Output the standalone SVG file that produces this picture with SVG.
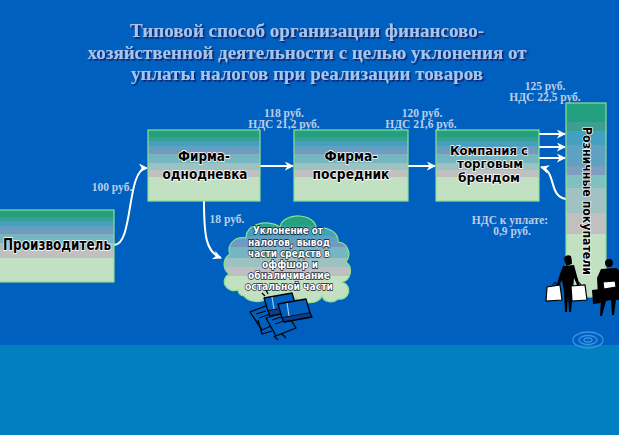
<svg xmlns="http://www.w3.org/2000/svg" width="619" height="435" viewBox="0 0 619 435">
<defs>
<style>
.title{font-family:"Liberation Serif","Times New Roman",serif;font-weight:bold;font-size:18px;fill:#A4C6EE;text-anchor:middle;filter:url(#sh)}
.lbl{font-family:"Liberation Serif","Times New Roman",serif;font-weight:bold;font-size:11.5px;fill:#BCCDE6;text-anchor:middle}
.bx{stroke:#8EE08E;stroke-width:1.2}
.bt{font-family:"DejaVu Sans","Liberation Sans",Arial,sans-serif;font-weight:bold;fill:#000;stroke:#FFFFFF;stroke-width:1.4;paint-order:stroke;text-anchor:middle}
.ct{font-family:"DejaVu Sans","Liberation Sans",Arial,sans-serif;font-weight:bold;font-size:10.5px;fill:#FFFFFF;stroke:#101830;stroke-width:1.3;paint-order:stroke;text-anchor:middle}
.ar{fill:none;stroke:#FFFFFF;stroke-width:2;marker-end:url(#ah)}
.sil{fill:#000}
</style>
<filter id="sh" x="-5%" y="-20%" width="110%" height="150%">
<feDropShadow dx="1.6" dy="1.6" stdDeviation="0.3" flood-color="#14246A" flood-opacity="1"/>
</filter>
<linearGradient id="g" x1="0" y1="0" x2="0" y2="1">
<stop offset="0" stop-color="#22A080"/><stop offset="0.1" stop-color="#22A080"/>
<stop offset="0.1" stop-color="#3A9E92"/><stop offset="0.155" stop-color="#3A9E92"/>
<stop offset="0.155" stop-color="#42A0C0"/><stop offset="0.225" stop-color="#42A0C0"/>
<stop offset="0.225" stop-color="#60A0C0"/><stop offset="0.28" stop-color="#60A0C0"/>
<stop offset="0.28" stop-color="#7498C0"/><stop offset="0.34" stop-color="#7498C0"/>
<stop offset="0.34" stop-color="#76B6C0"/><stop offset="0.465" stop-color="#76B6C0"/>
<stop offset="0.465" stop-color="#9CC2C2"/><stop offset="0.56" stop-color="#9CC2C2"/>
<stop offset="0.56" stop-color="#C0C0C0"/><stop offset="0.66" stop-color="#C0C0C0"/>
<stop offset="0.66" stop-color="#C2E0C2"/><stop offset="1" stop-color="#C2E0C2"/>
</linearGradient>
<linearGradient id="gt" x1="0" y1="0" x2="0" y2="1">
<stop offset="0" stop-color="#22A080"/><stop offset="0.1" stop-color="#22A080"/>
<stop offset="0.1" stop-color="#3E9E92"/><stop offset="0.144" stop-color="#3E9E92"/>
<stop offset="0.144" stop-color="#42A0C0"/><stop offset="0.216" stop-color="#42A0C0"/>
<stop offset="0.216" stop-color="#60A0C0"/><stop offset="0.325" stop-color="#60A0C0"/>
<stop offset="0.325" stop-color="#7E9EC0"/><stop offset="0.37" stop-color="#7E9EC0"/>
<stop offset="0.37" stop-color="#80C0C0"/><stop offset="0.438" stop-color="#80C0C0"/>
<stop offset="0.438" stop-color="#A0C2C2"/><stop offset="0.567" stop-color="#A0C2C2"/>
<stop offset="0.567" stop-color="#C0C0C0"/><stop offset="0.675" stop-color="#C0C0C0"/>
<stop offset="0.675" stop-color="#C2E0C2"/><stop offset="1" stop-color="#C2E0C2"/>
</linearGradient>
<marker id="ah" viewBox="0 0 10 10" refX="9" refY="5" markerWidth="9" markerHeight="9" markerUnits="userSpaceOnUse" orient="auto">
<path d="M0,0 L10,5 L0,10 L3,5 Z" fill="#FFFFFF"/>
</marker>
</defs>

<rect x="0" y="0" width="619" height="435" fill="#0060C0"/>
<rect x="0" y="345" width="619" height="90" fill="#0080C0"/>

<g id="title">
<text class="title" x="307" y="37" textLength="354" lengthAdjust="spacingAndGlyphs">Типовой способ организации финансово-</text>
<text class="title" x="307" y="59" textLength="439" lengthAdjust="spacingAndGlyphs">хозяйственной деятельности с целью уклонения от</text>
<text class="title" x="307" y="80" textLength="352" lengthAdjust="spacingAndGlyphs">уплаты налогов при реализации товаров</text>
</g>

<g id="connectors">
<path class="ar" d="M114,245 C134,245 126,168 147,168"/>
<path class="ar" d="M260,166 L293,166"/>
<path class="ar" d="M408,166 L435,166"/>
<path class="ar" d="M204,201 C204,236 206,252 221,258"/>
<line x1="512" y1="134" x2="539" y2="134" stroke="#48A8E8" stroke-width="1.5"/>
<path class="ar" d="M539,134 L565,134"/>
<path class="ar" d="M539,147 L565,147"/>
<path class="ar" d="M539,158 L565,158"/>
<path class="ar" d="M566,199 C548,196 557,172 541,167"/>
</g>

<g id="labels">
<text class="lbl" x="112" y="191">100 руб.</text>
<text class="lbl" x="284" y="117">118 руб.</text>
<text class="lbl" x="284" y="128">НДС 21,2 руб.</text>
<text class="lbl" x="422" y="117">120 руб.</text>
<text class="lbl" x="421" y="128">НДС 21,6 руб.</text>
<text class="lbl" x="545" y="90">125 руб.</text>
<text class="lbl" x="545" y="101">НДС 22,5 руб.</text>
<text class="lbl" x="227" y="223">18 руб.</text>
<text class="lbl" x="510" y="224">НДС к уплате:</text>
<text class="lbl" x="512" y="235">0,9 руб.</text>
</g>

<g id="node-producer">
<rect class="bx" x="-2" y="210" width="116" height="72" fill="url(#g)"/>
<text class="bt" x="57" y="250" font-size="15" textLength="108" lengthAdjust="spacingAndGlyphs">Производитель</text>
</g>

<g id="node-oneday">
<rect class="bx" x="148" y="130" width="112" height="71" fill="url(#g)"/>
<text class="bt" x="204" y="161" font-size="14" textLength="52" lengthAdjust="spacingAndGlyphs">Фирма-</text>
<text class="bt" x="205" y="179" font-size="14" textLength="85" lengthAdjust="spacingAndGlyphs">однодневка</text>
</g>

<g id="node-intermediary">
<rect class="bx" x="294" y="130" width="114" height="71" fill="url(#g)"/>
<text class="bt" x="351" y="161" font-size="14" textLength="53" lengthAdjust="spacingAndGlyphs">Фирма-</text>
<text class="bt" x="351" y="179" font-size="14" textLength="77" lengthAdjust="spacingAndGlyphs">посредник</text>
</g>

<g id="node-brand">
<rect class="bx" x="436" y="130" width="103" height="71" fill="url(#g)"/>
<text class="bt" x="489" y="155" font-size="12" textLength="78" lengthAdjust="spacingAndGlyphs">Компания с</text>
<text class="bt" x="490" y="168" font-size="12" textLength="66" lengthAdjust="spacingAndGlyphs">торговым</text>
<text class="bt" x="489" y="182" font-size="12" textLength="62" lengthAdjust="spacingAndGlyphs">брендом</text>
</g>

<g id="node-buyers">
<rect class="bx" x="566" y="103" width="40" height="194" fill="url(#gt)"/>
<text class="bt" x="0" y="0" font-size="13" textLength="148" lengthAdjust="spacingAndGlyphs" transform="translate(583,201) rotate(90)">Розничные покупатели</text>
</g>

<g id="node-cloud">
<path class="bx" fill="url(#g)" d="M238,290 A10,9 0 0 1 229,274 A12,12 0 0 1 230,254 A14,12 0 0 1 246,238 A20,14 0 0 1 280,227 A18,12 0 0 1 316,229 A16,13 0 0 1 338,242 A11,12 0 0 1 346,262 A10,11 0 0 1 342,282 A8,8 0 0 1 338,299 A9,7 0 0 1 322,296 A14,9 0 0 1 296,298 A14,9 0 0 1 268,298 A14,9 0 0 1 244,296 A7,6 0 0 1 238,290 Z"/>
<text class="ct" x="288" y="234" textLength="70" lengthAdjust="spacingAndGlyphs">Уклонение от</text>
<text class="ct" x="289" y="245.5" textLength="82" lengthAdjust="spacingAndGlyphs">налогов, вывод</text>
<text class="ct" x="289" y="256.5" textLength="82" lengthAdjust="spacingAndGlyphs">части средств в</text>
<text class="ct" x="290" y="267.5" textLength="56" lengthAdjust="spacingAndGlyphs">оффшор и</text>
<text class="ct" x="289" y="278.5" textLength="82" lengthAdjust="spacingAndGlyphs">обналичивание</text>
<text class="ct" x="289" y="289.5" textLength="88" lengthAdjust="spacingAndGlyphs">остальной части</text>
</g>

<g id="money" stroke="#000" stroke-width="1.3" stroke-linejoin="round">
<path d="M250,312 L268,305 L280,322 L262,330 Z" fill="#0060C0"/>
<path d="M258,320 L262,334 L272,331" fill="none"/>
<path d="M266,318 L286,312 L296,328 L276,336 Z" fill="#0060C0"/>
<path d="M256,314 L266,311 M259,318 L270,314 M272,320 L284,316 M275,324 L287,320" fill="none" stroke-width="1"/>
<path d="M274,336 L278,340 M282,334 L286,338" fill="none"/>
<path d="M264,298 L292,293 L296,306 L268,311 Z" fill="#0060C0"/>
<path d="M268,311 L270,316 L298,311 L296,306" fill="#0A3F90"/>
<path d="M278,304 L306,299 L310,313 L282,318 Z" fill="#0060C0"/>
<path d="M282,318 L284,322 L312,317 L310,313" fill="#0A3F90"/>
<path d="M272,297 L274,309 M287,303 L289,316" stroke="#A0C8F0" stroke-width="1.2" fill="none"/>
<path d="M266,290 L268,294 M262,293 L265,296" fill="none"/>
</g>

<g id="people">
<circle class="sil" cx="568" cy="260" r="3.6"/>
<path class="sil" d="M564,258 Q566,254 571,256 L572,264 L566,266 Z"/>
<path class="sil" d="M563,266 L574,265 L577,276 L580,286 L578,287 L574,278 L573,290 L571,312 L569,312 L568,296 L567,312 L565,312 L564,292 L562,280 L558,288 L556,287 L560,274 Z"/>
<path d="M547,287 L560,285 L562,300 L546,301 Z" fill="#FFFFFF" stroke="#000" stroke-width="1.2"/>
<path d="M571,286 L585,285 L587,300 L572,301 Z" fill="#FFFFFF" stroke="#000" stroke-width="1.2"/>
<path d="M553,285 Q555,280 557,285 M577,285 Q579,280 581,285" fill="none" stroke="#000" stroke-width="1"/>
<circle class="sil" cx="609" cy="263" r="4"/>
<path class="sil" d="M601,269 L616,268 L619,270 L619,300 L616,300 L614,315 L612,315 L611,300 L606,301 L602,316 L600,316 L601,300 L598,296 L597,278 Z"/>
<path d="M603,282 L615,281 L616,287 L604,289 Z" fill="#FFFFFF" stroke="#000" stroke-width="1"/>
<path class="sil" d="M592,290 L600,289 L601,303 L593,304 Z"/>
</g>

<g id="ripple" fill="none" stroke="#3A92E0" stroke-width="1.3">
<ellipse cx="588" cy="340" rx="15" ry="8"/>
<ellipse cx="588" cy="340" rx="9" ry="4.5"/>
<ellipse cx="588" cy="340" rx="4" ry="2"/>
</g>
</svg>
